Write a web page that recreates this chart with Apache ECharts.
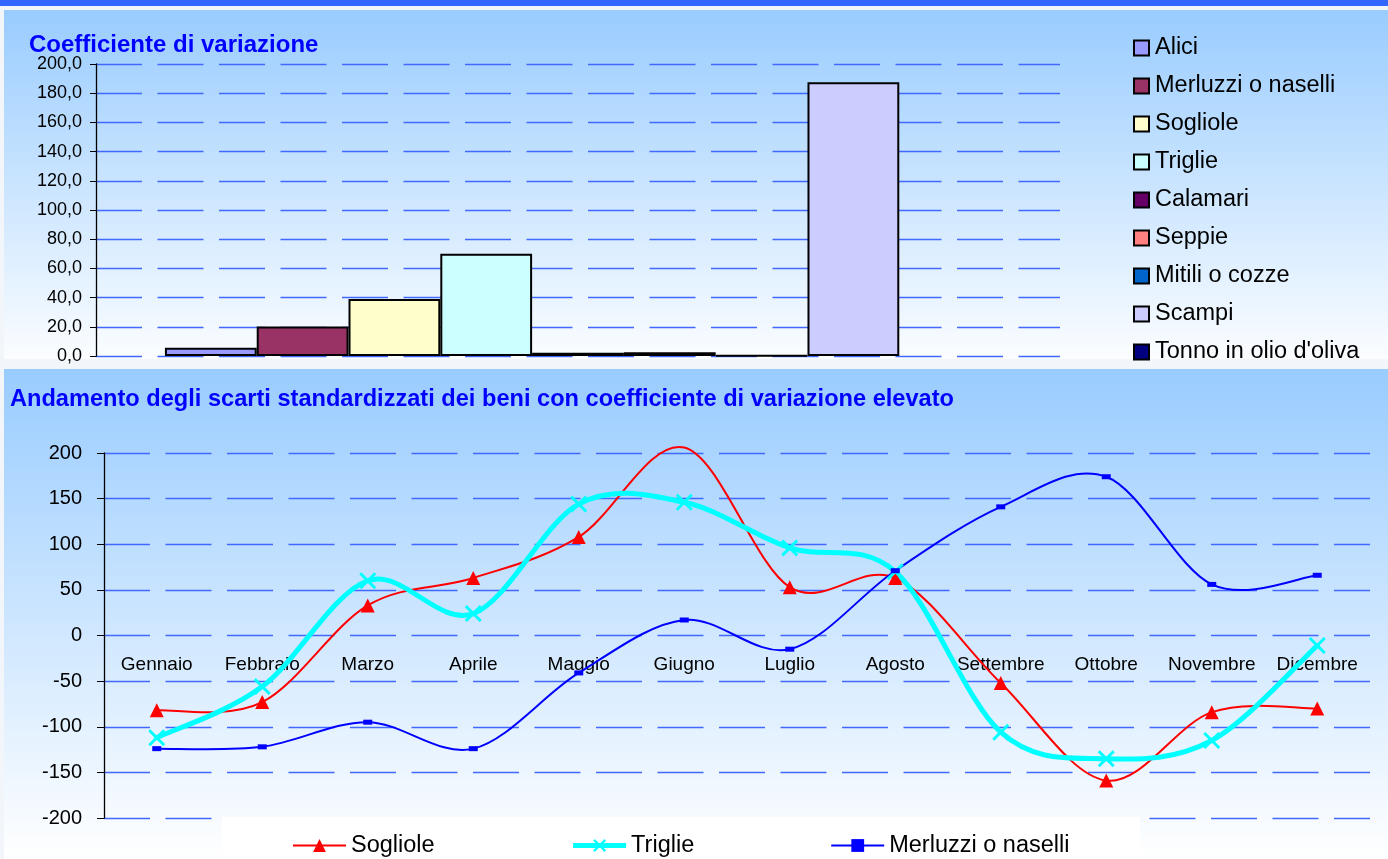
<!DOCTYPE html>
<html>
<head>
<meta charset="utf-8">
<script src="https://cdn.jsdelivr.net/npm/echarts@6/dist/echarts.min.js"></script>
<style>
  html, body { margin: 0; padding: 0; background: #f2f6fa; }
  #chart { width: 1388px; height: 859px; }
</style>
</head>
<body>
<div id="chart"></div>
<script>
// ---- Data ----
const goods = ['Alici', 'Merluzzi o naselli', 'Sogliole', 'Triglie', 'Calamari', 'Seppie', 'Mitili o cozze', 'Scampi', "Tonno in olio d'oliva"];
const cvValues = [5.7, 20.2, 39.0, 70.0, 2.2, 2.5, 0.4, 187.5, 0];
const cvTicks = [0, 200, 20]; // min, max, step

const months = ['Gennaio', 'Febbraio', 'Marzo', 'Aprile', 'Maggio', 'Giugno', 'Luglio', 'Agosto', 'Settembre', 'Ottobre', 'Novembre', 'Dicembre'];
const lineNames = ['Sogliole', 'Triglie', 'Merluzzi o naselli'];
const sogliole = [-82, -73, 33, 63, 108, 206, 53, 63, -52, -159, -84, -80];
const triglie = [-112, -56, 60, 24, 144, 146, 96, 70, -106, -135, -115, -11];
const merluzzi = [-124, -122, -95, -124, -41, 17, -15, 71, 141, 174, 56, 66];
const scartiTicks = [-200, 200, 50];

const titles = ['Coefficiente di variazione', 'Andamento degli scarti standardizzati dei beni con coefficiente di variazione elevato'];

// ---- Styles / layout ----
const FONT = 'Arial, "Liberation Sans", sans-serif';
const barColors = ['#9999ff', '#993366', '#ffffcc', '#ccffff', '#660066', '#ff8080', '#0066cc', '#ccccff', '#000080'];
const gridLine = { show: true, lineStyle: { color: '#4169ff', width: 1.4, type: [46, 15.5] } };
const xMark = 'path://M0,1.2 L1.2,0 L5,3.8 L8.8,0 L10,1.2 L6.2,5 L10,8.8 L8.8,10 L5,6.2 L1.2,10 L0,8.8 L3.8,5 Z';
const lineStyles = [
  { color: '#ff0000', width: 2, symbol: 'triangle', symbolSize: 14 },
  { color: '#00ffff', width: 5, symbol: xMark, symbolSize: 17 },
  { color: '#0000ff', width: 2, symbol: 'rect', symbolSize: [9, 5] }
];
const lineData = [sogliole, triglie, merluzzi];
const PREFIX = 'L:';
const grid2 = { left: 104, top: 453, width: 1266, height: 365 };
// category axis sits on the zero line of the value axis
const zeroOffset = -grid2.height * (0 - scartiTicks[0]) / (scartiTicks[1] - scartiTicks[0]);

const chart = echarts.init(document.getElementById('chart'), null, { renderer: 'canvas' });

const barSeries = goods.map((name, i) => ({
  name: name,
  type: 'bar',
  xAxisIndex: 0,
  yAxisIndex: 0,
  barGap: 0,
  barCategoryGap: '14.3%',
  data: [cvValues[i] === 0 ? { value: 0, itemStyle: { borderWidth: 0 } } : cvValues[i]],
  itemStyle: { color: barColors[i], borderColor: '#000', borderWidth: 2 },
  emphasis: { disabled: true },
  silent: true
}));

// Smooth curve (Excel-like cardinal spline) drawn through the axis scales via api.coord
function curveSeries(values, st, idx) {
  return {
    name: 'curve' + idx,
    type: 'custom',
    coordinateSystem: 'cartesian2d',
    xAxisIndex: 1, yAxisIndex: 1,
    clip: false,
    silent: true,
    z: 2,
    data: values.map((v, i) => [i, v]),
    encode: { x: 0, y: 1 },
    renderItem: function (params, api) {
      if (params.dataIndex !== 0) return null;
      const pts = values.map((v, i) => api.coord([i, v]));
      let d = 'M' + pts[0][0] + ' ' + pts[0][1];
      for (let i = 0; i < pts.length - 1; i++) {
        const p0 = pts[i - 1] || pts[i];
        const p1 = pts[i];
        const p2 = pts[i + 1];
        const p3 = pts[i + 2] || pts[i + 1];
        const c1x = p1[0] + (p2[0] - p0[0]) / 6, c1y = p1[1] + (p2[1] - p0[1]) / 6;
        const c2x = p2[0] - (p3[0] - p1[0]) / 6, c2y = p2[1] - (p3[1] - p1[1]) / 6;
        d += ' C' + c1x + ' ' + c1y + ' ' + c2x + ' ' + c2y + ' ' + p2[0] + ' ' + p2[1];
      }
      return {
        type: 'path',
        shape: { pathData: d },
        style: { fill: null, stroke: st.color, lineWidth: st.width, lineJoin: 'round', lineCap: 'round' }
      };
    }
  };
}

const maxScarti = scartiTicks[1];
function markerSeries(values, st, name) {
  return {
    name: PREFIX + name, type: 'line', xAxisIndex: 1, yAxisIndex: 1,
    data: values.map(v => (v > maxScarti ? { value: v, symbol: 'none' } : v)),
    clip: false,
    symbol: st.symbol, symbolSize: st.symbolSize, showAllSymbol: true,
    lineStyle: { color: st.color, width: st.width, opacity: 0 },
    itemStyle: { color: st.color },
    emphasis: { disabled: true },
    silent: true, z: 2
  };
}

const lineSeries = [];
lineNames.forEach((n, i) => {
  lineSeries.push(curveSeries(lineData[i], lineStyles[i], i));
  lineSeries.push(markerSeries(lineData[i], lineStyles[i], n));
});

const option = {
  animation: false,
  backgroundColor: 'transparent',
  textStyle: { fontFamily: FONT },
  graphic: [
    { type: 'rect', z: -100, shape: { x: 0, y: 0, width: 1388, height: 6 }, style: { fill: '#3366ff' } },
    { type: 'rect', z: -100, shape: { x: 4, y: 10, width: 1384, height: 349 },
      style: { fill: new echarts.graphic.LinearGradient(0, 0, 0, 1, [{ offset: 0, color: '#99ccff' }, { offset: 1, color: '#fbfdff' }]) } },
    { type: 'rect', z: -100, shape: { x: 4, y: 369, width: 1384, height: 490 },
      style: { fill: new echarts.graphic.LinearGradient(0, 0, 0, 1, [{ offset: 0, color: '#99ccff' }, { offset: 1, color: '#ffffff' }]) } },
    { type: 'rect', z: 3, shape: { x: 222, y: 817, width: 918, height: 42 }, style: { fill: '#ffffff' } }
  ],
  title: [
    { text: titles[0], left: 29, top: 33, padding: 0,
      textStyle: { color: '#0000ff', fontWeight: 'bold', fontSize: 24, fontFamily: FONT } },
    { text: titles[1], left: 10, top: 387, padding: 0,
      textStyle: { color: '#0000ff', fontWeight: 'bold', fontSize: 23.6, fontFamily: FONT } }
  ],
  legend: [
    {
      data: goods,
      orient: 'vertical',
      left: 1133,
      top: 36,
      itemWidth: 15,
      itemHeight: 15,
      itemGap: 14,
      padding: 0,
      selectedMode: false,
      icon: 'rect',
      itemStyle: { borderColor: '#000', borderWidth: 2 },
      textStyle: { fontSize: 23.5, color: '#000', fontFamily: FONT, lineHeight: 23, padding: [0, 0, 0, 1] }
    },
    {
      data: lineNames.map((n, i) => ({
        name: PREFIX + n,
        lineStyle: { color: lineStyles[i].color, width: lineStyles[i].width, opacity: 1 }
      })),
      formatter: n => n.slice(PREFIX.length),
      orient: 'horizontal',
      left: 292,
      top: 833.5,
      itemWidth: 53,
      itemHeight: 16,
      itemGap: 136,
      padding: 0,
      z: 5,
      selectedMode: false,
      textStyle: { fontSize: 23.5, color: '#000', fontFamily: FONT, lineHeight: 23 }
    }
  ],
  grid: [
    { left: 96, top: 64, width: 964, height: 292, containLabel: false },
    Object.assign({ containLabel: false }, grid2)
  ],
  xAxis: [
    { type: 'category', gridIndex: 0, data: [''], axisLine: { show: false }, axisTick: { show: false }, axisLabel: { show: false }, splitLine: { show: false } },
    { type: 'category', gridIndex: 1, data: months, boundaryGap: true, position: 'bottom', offset: zeroOffset,
      axisLine: { show: false, onZero: false }, axisTick: { show: false },
      axisLabel: { fontSize: 19, color: '#000', margin: 20, fontFamily: FONT, interval: 0 },
      splitLine: { show: false } }
  ],
  yAxis: [
    { type: 'value', gridIndex: 0, min: cvTicks[0], max: cvTicks[1], interval: cvTicks[2],
      axisLine: { show: true, lineStyle: { color: '#000', width: 1.3 } },
      axisTick: { show: true, length: 6, lineStyle: { color: '#000' } },
      axisLabel: { fontSize: 18, color: '#000', margin: 14, fontFamily: FONT,
        formatter: v => v.toFixed(1).replace('.', ',') },
      splitLine: gridLine },
    { type: 'value', gridIndex: 1, min: scartiTicks[0], max: scartiTicks[1], interval: scartiTicks[2],
      axisLine: { show: true, lineStyle: { color: '#000', width: 1.3 } },
      axisTick: { show: true, length: 7, lineStyle: { color: '#000' } },
      axisLabel: { fontSize: 20, color: '#000', margin: 22, fontFamily: FONT },
      splitLine: gridLine }
  ],
  series: barSeries.concat(lineSeries)
};

chart.setOption(option);
</script>
</body>
</html>
